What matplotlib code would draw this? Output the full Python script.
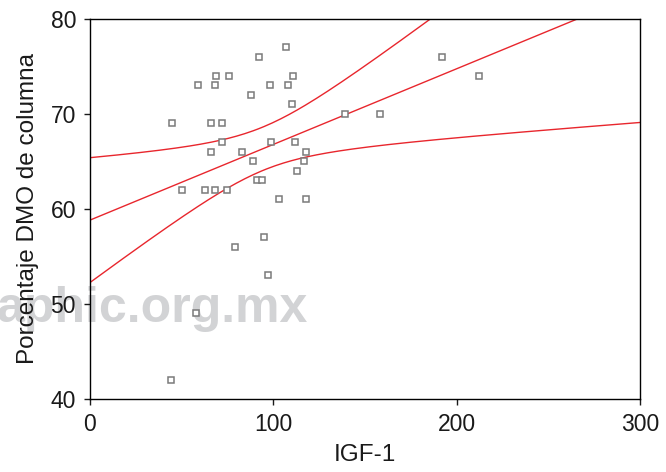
import numpy as np
import matplotlib
matplotlib.use("Agg")
import matplotlib.pyplot as plt

plt.rcParams['font.family'] = ['Liberation Sans', 'DejaVu Sans']

# data (IGF-1 vs % DMO de columna)
igf = [107, 92, 69, 76, 111, 59, 68, 98, 108, 88, 110, 139, 45, 66, 72,
       72, 99, 112, 66, 83, 118, 89, 117, 113, 91, 94, 50, 63, 68, 75,
       103, 118, 95, 79, 97, 58, 44, 192, 212, 158]
dmo = [77, 76, 74, 74, 74, 73, 73, 73, 73, 72, 71, 70, 69, 69, 69,
       67, 67, 67, 66, 66, 66, 65, 65, 64, 63, 63, 62, 62, 62, 62,
       61, 61, 57, 56, 53, 49, 42, 76, 74, 70]

x = np.array(igf, dtype=float)
y = np.array(dmo, dtype=float)

# linear fit with 95% confidence band for the mean
n = len(x)
b, a = np.polyfit(x, y, 1)
resid = y - (a + b * x)
s = np.sqrt(np.sum(resid**2) / (n - 2))
sxx = np.sum((x - x.mean())**2)
t = 2.024
xs = np.linspace(0, 300, 200)
fit = a + b * xs
half = t * s * np.sqrt(1.0 / n + (xs - x.mean())**2 / sxx)

fig = plt.figure(figsize=(6.66, 4.72), dpi=100)
ax = fig.add_axes([0.1351, 0.1547, 0.961 - 0.1351, 0.9604 - 0.1547])

# watermark behind everything
fig.text(308 / 666, 1 - 322 / 472, "aphic.org.mx", ha='right', va='baseline',
         fontsize=36, fontweight='bold', color='#d2d3d5', zorder=-5)
ax.patch.set_alpha(0)

red = '#e8262d'
ax.plot(xs, fit, color=red, lw=1)
ax.plot(xs, fit + half, color=red, lw=1)
ax.plot(xs, fit - half, color=red, lw=1)
ax.plot(x, y, ls='none', marker='s', ms=5, mfc='white', mec='#7a7a7a', mew=1.1)

ax.set_xlim(0, 300)
ax.set_ylim(40, 80)
ax.set_xticks([0, 100, 200, 300])
ax.set_yticks([40, 50, 60, 70, 80])
ax.tick_params(direction='out', length=4, width=1, labelsize=16.5, pad=6,
               colors='#1a1a1a')
for sp in ax.spines.values():
    sp.set_linewidth(1)
ax.set_xlabel("IGF-1", fontsize=17.5, color='#1a1a1a', labelpad=6)
ax.set_ylabel("Porcentaje DMO de columna", fontsize=17.5, color='#1a1a1a', labelpad=8)

fig.savefig("out.png", dpi=100)
